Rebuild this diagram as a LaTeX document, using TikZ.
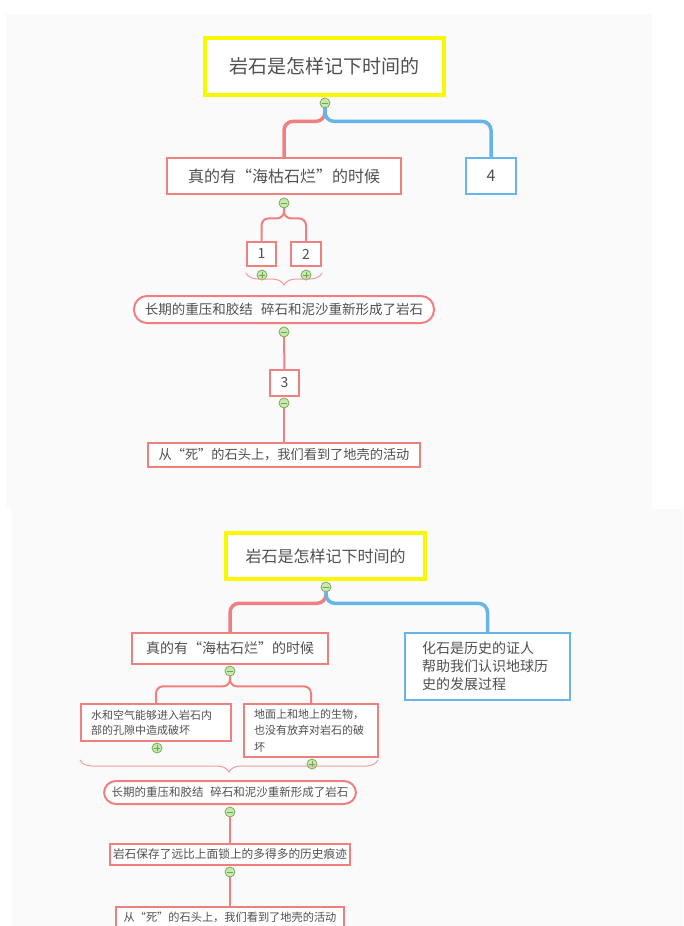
\documentclass[tikz,border=0pt]{standalone}
\usepackage{fontspec}
\setmainfont{Noto Sans CJK SC}
\usetikzlibrary{decorations.pathreplacing}
\definecolor{panel}{HTML}{FAFAFA}
\definecolor{rootyel}{HTML}{F8F800}
\definecolor{topicred}{HTML}{F08080}
\definecolor{topicblue}{HTML}{66B4EA}
\definecolor{foldgreen}{HTML}{6FA84E}
\definecolor{foldfill}{HTML}{C8E8B0}
\definecolor{ink}{HTML}{505050}
\definecolor{bracepink}{HTML}{EE9E9E}
\newcommand\fsz[2]{\fontsize{#1pt}{#2pt}\selectfont}

\begin{document}
\begin{tikzpicture}[x=1pt,y=-1pt,line cap=round,
                    every node/.style={text=ink,inner sep=0pt}]

  \tikzstyle{root}=[rectangle,draw=rootyel,line width=4pt,fill=white]
  \tikzstyle{topic}=[rectangle,draw=topicred,line width=2pt,fill=white]
  \tikzstyle{btopic}=[topic,draw=topicblue]
  \tikzstyle{round topic}=[topic,rounded corners=13pt]
  \tikzstyle{rline}=[draw=topicred,line width=2pt,rounded corners=7pt]
  \tikzstyle{rthick}=[rline,line width=3.5pt,rounded corners=9pt]
  \tikzstyle{bthick}=[rthick,draw=topicblue]
  \tikzstyle{bracket}=[decorate,decoration={brace,mirror,amplitude=12pt},
                       draw=bracepink,line width=1pt]
  \tikzstyle{fold}=[circle,draw=foldgreen,fill=foldfill,line width=0.7pt,minimum size=10pt,
    path picture={\draw[foldgreen,line width=0.9pt]
      ([xshift=2.2pt]path picture bounding box.west) -- ([xshift=-2.2pt]path picture bounding box.east);}]
  \tikzstyle{unfold}=[fold,
    path picture={\draw[foldgreen,line width=0.9pt]
      ([xshift=2.2pt]path picture bounding box.west) -- ([xshift=-2.2pt]path picture bounding box.east)
      ([yshift=-2.2pt]path picture bounding box.north) -- ([yshift=2.2pt]path picture bounding box.south);}]

  \fill[white] (0,0) rectangle (683,926);
  \useasboundingbox (0,0) rectangle (683,926);
  \fill[panel] (6,14) rectangle (652,509);
  \fill[panel] (11,509) rectangle (683,926);

  % upper map
  \node[root,minimum width=239pt,minimum height=57pt,font=\fsz{19}{23}] (rockA) at (324.5,66.5) {岩石是怎样记下时间的};
  \node[topic,minimum width=234pt,minimum height=36pt,font=\fsz{16}{19}] (seaA) at (284,176) {真的有“海枯石烂”的时候};
  \node[btopic,minimum width=50pt,minimum height=36pt,font=\fsz{16}{19}] (fourA) at (491,176) {4};
  \node[topic,minimum width=29pt,minimum height=24pt,font=\fsz{14}{17}] (oneA) at (261.5,254) {1};
  \node[topic,minimum width=30pt,minimum height=24pt,font=\fsz{14}{17}] (twoA) at (306,254) {2};
  \node[round topic,minimum width=300pt,minimum height=27pt,font=\fsz{13.5}{16}] (pressA) at (284,309.5)
       {长期的重压和胶结\hspace{0.6em}碎石和泥沙重新形成了岩石};
  \node[topic,minimum width=29pt,minimum height=26pt,font=\fsz{14}{17}] (threeA) at (284.5,383) {3};
  \node[topic,minimum width=272pt,minimum height=24pt,font=\fsz{13.2}{16}] (deadA) at (284,455)
       {从“死”的石头上，我们看到了地壳的活动};

  \node[fold]   (tA1) at (325,103) {};
  \node[fold]   (tA2) at (284,203) {};
  \node[unfold] (tA3) at (262,275) {};
  \node[unfold] (tA4) at (306,275) {};
  \node[fold]   (tA5) at (284,332) {};
  \node[fold]   (tA6) at (284,403) {};

  \coordinate (bA1) at (246,273);
  \coordinate (bA2) at (322,273);

  \draw[rthick]  (tA1.south) -- ++(0,13) -| (seaA.north);
  \draw[bthick]  (tA1.south) -- ++(0,13) -| (fourA.north);
  \draw[rline]   (tA2.south) -- ++(0,10) -| (oneA.north);
  \draw[rline]   (tA2.south) -- ++(0,10) -| (twoA.north);
  \draw[bracket] (bA1) -- (bA2);
  \draw[rline]   (tA5.south) -- (threeA.north);
  \draw[rline]   (tA6.south) -- (deadA.north);

  % lower map
  \node[root,minimum width=199pt,minimum height=46pt,font=\fsz{16}{19}] (rockB) at (325.5,556) {岩石是怎样记下时间的};
  \node[topic,minimum width=196pt,minimum height=31pt,font=\fsz{14}{17}] (seaB) at (230,648.5) {真的有“海枯石烂”的时候};
  \node[btopic,text width=131pt,inner xsep=17pt,minimum height=67pt,align=left,font=\fsz{14}{18}] (fossilB) at (487.5,666.5)
       {化石是历史的证人\\帮助我们认识地球历\\史的发展过程};
  \node[topic,text width=130pt,inner xsep=10pt,minimum height=37pt,align=left,font=\fsz{11}{15}] (waterB) at (156,722.5)
       {水和空气能够进入岩石内\\部的孔隙中造成破坏};
  \node[topic,text width=114pt,inner xsep=10pt,minimum height=53pt,align=left,font=\fsz{11}{16.5}] (lifeB) at (311,730.5)
       {地面上和地上的生物，\\也没有放弃对岩石的破\\坏};
  \node[round topic,rounded corners=12pt,minimum width=252pt,minimum height=23pt,font=\fsz{11.5}{14}] (pressB) at (230,792.5)
       {长期的重压和胶结\hspace{0.6em}碎石和泥沙重新形成了岩石};
  \node[topic,minimum width=240pt,minimum height=21pt,font=\fsz{11.7}{14}] (keepB) at (230,854.5)
       {岩石保存了远比上面锁上的多得多的历史痕迹};
  \node[topic,minimum width=228pt,minimum height=21pt,font=\fsz{11.2}{14}] (deadB) at (230,917.5)
       {从“死”的石头上，我们看到了地壳的活动};

  \node[fold]   (tB1) at (326,587) {};
  \node[fold]   (tB2) at (230,671) {};
  \node[unfold] (tB3) at (157,748) {};
  \node[unfold] (tB4) at (312,764) {};
  \node[fold]   (tB5) at (230,812) {};
  \node[fold]   (tB6) at (230,872) {};

  \coordinate (bB1) at (80,760);
  \coordinate (bB2) at (378,760);

  \draw[rthick]  (tB1.south) -- ++(0,11) -| (seaB.north);
  \draw[bthick]  (tB1.south) -- ++(0,11) -| (fossilB.north);
  \draw[rline]   (tB2.south) -- ++(0,10) -| (waterB.north);
  \draw[rline]   (tB2.south) -- ++(0,10) -| (lifeB.north);
  \draw[bracket] (bB1) -- (bB2);
  \draw[rline]   (tB5.south) -- (keepB.north);
  \draw[rline]   (tB6.south) -- (deadB.north);

\end{tikzpicture}
\end{document}
